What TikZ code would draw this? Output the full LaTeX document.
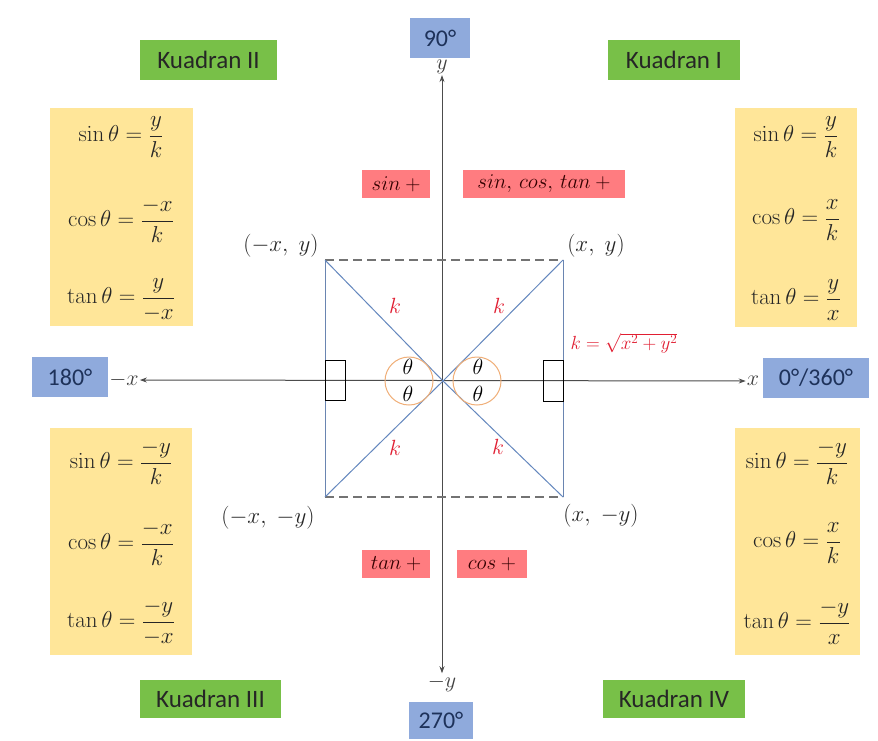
\RequirePackage{fix-cm}
\documentclass[tikz,border=0pt]{standalone}
\usepackage[no-math]{fontspec}
\setmainfont{Carlito}
\usetikzlibrary{arrows.meta}
\definecolor{degblue}{RGB}{143,170,220}
\definecolor{degtext}{RGB}{30,50,90}
\definecolor{quadgreen}{RGB}{120,192,72}
\definecolor{formyellow}{RGB}{255,230,153}
\definecolor{signred}{RGB}{255,124,128}
\definecolor{diagblue}{RGB}{100,135,190}
\definecolor{kred}{RGB}{225,30,50}
\definecolor{circorange}{RGB}{240,175,120}
\tikzset{
  degbox/.style={fill=degblue, text=degtext, font=\fontsize{24}{26}\selectfont, inner sep=0pt, minimum height=40pt},
  quadbox/.style={fill=quadgreen, text=black!85, font=\fontsize{25}{27}\selectfont, inner sep=0pt, minimum height=40pt},
  formbox/.style={fill=formyellow, draw=none, inner sep=0pt},
  formula/.style={font=\fontsize{23}{26}\selectfont, inner sep=1pt, text=black!85},
  signbox/.style={fill=signred, text=black!80!red, font=\fontsize{21}{24}\selectfont, inner sep=0pt, minimum height=28pt},
  axislabel/.style={font=\fontsize{22}{24}\selectfont, inner sep=1pt, text=black!75},
  axis/.style={draw=black!70, line width=1pt, {Stealth[length=7pt,width=5pt]}-{Stealth[length=7pt,width=5pt]}},
  ptlabel/.style={font=\fontsize{23}{26}\selectfont, text=black!85},
  klabel/.style={font=\fontsize{22}{24}\selectfont, text=kred},
  thlabel/.style={font=\fontsize{22}{24}\selectfont, inner sep=0pt},
  diag/.style={draw=diagblue, line width=1pt},
  sideline/.style={draw=diagblue!80!gray, line width=1pt},
  dashside/.style={draw=black!55, line width=1.2pt, dash pattern=on 9pt off 5pt},
  rightbox/.style={draw=black, line width=1pt},
  arcmark/.style={draw=circorange, line width=1pt},
}
\begin{document}
\begin{tikzpicture}[x=1pt,y=-1pt]
\useasboundingbox (0,0) rectangle (878,740);
\fill[white] (0,0) rectangle (878,740);

% quadrant labels
\node[quadbox, minimum width=137pt] (k2) at (208.5,60) {Kuadran II};
\node[quadbox, minimum width=132pt] (k1) at (674,60) {Kuadran I};
\node[quadbox, minimum width=141pt, minimum height=38pt] (k3) at (210.5,699) {Kuadran III};
\node[quadbox, minimum width=142pt, minimum height=38pt] (k4) at (674,699) {Kuadran IV};

% degree labels
\node[degbox, minimum width=60pt] (d90) at (440,38) {90°};
\node[degbox, minimum width=64pt, minimum height=37pt] (d270) at (441,720) {270°};
\node[degbox, minimum width=76pt] (d180) at (70,377) {180°};
\node[degbox, minimum width=106pt] (d0) at (816,378) {0°/360°};

% formula boxes
\node[formbox, minimum width=143pt, minimum height=218pt] (f2) at (121.5,217) {};
\node[formbox, minimum width=122pt, minimum height=219pt] (f1) at (796,217.5) {};
\node[formbox, minimum width=142pt, minimum height=227pt] (f3) at (121,541.5) {};
\node[formbox, minimum width=125pt, minimum height=227pt] (f4) at (797.5,541.5) {};

\node[formula] (s2) at (121,137) {$\displaystyle \sin\theta = \frac{y}{k}$};
\node[formula] (c2) at (121,220) {$\displaystyle \cos\theta = \frac{-x}{k}$};
\node[formula] (t2) at (121,300) {$\displaystyle \tan\theta = \frac{y}{-x}$};

\node[formula] (s1) at (796,137) {$\displaystyle \sin\theta = \frac{y}{k}$};
\node[formula] (c1) at (796,220) {$\displaystyle \cos\theta = \frac{x}{k}$};
\node[formula] (t1) at (796,300) {$\displaystyle \tan\theta = \frac{y}{x}$};

\node[formula] (s3) at (121,462) {$\displaystyle \sin\theta = \frac{-y}{k}$};
\node[formula] (c3) at (121,543) {$\displaystyle \cos\theta = \frac{-x}{k}$};
\node[formula] (t3) at (121,622) {$\displaystyle \tan\theta = \frac{-y}{-x}$};

\node[formula] (s4) at (797,462) {$\displaystyle \sin\theta = \frac{-y}{k}$};
\node[formula] (c4) at (797,543) {$\displaystyle \cos\theta = \frac{x}{k}$};
\node[formula] (t4) at (797,622) {$\displaystyle \tan\theta = \frac{-y}{x}$};

% sign boxes
\node[signbox, minimum width=68pt] (sg2) at (396,184) {$sin\:+$};
\node[signbox, minimum width=162pt] (sg1) at (544,184) {$sin,\,cos,\,tan\:+$};
\node[signbox, minimum width=68pt] (sg3) at (396,564) {$tan\:+$};
\node[signbox, minimum width=70pt] (sg4) at (492,564) {$cos\:+$};

% axes
\node[axislabel] (px) at (753,381) {$x$};
\node[axislabel] (mx) at (124,380) {$-x$};
\node[axislabel] (py) at (442,67) {$y$};
\node[axislabel] (my) at (442,683) {$-y$};
\coordinate (O) at (443,381);
\draw[axis] (mx.east) -- (px.west);
\draw[axis] (py.south) -- (my.north);

% rectangle corners
\coordinate (A) at (563,260);
\coordinate (B) at (325,260);
\coordinate (C) at (325,497);
\coordinate (D) at (563,497);
\draw[dashside] (B) -- (A);
\draw[dashside] (C) -- (D);
\draw[sideline] (B) -- (C);
\draw[sideline] (A) -- (D);
\draw[diag] (O) -- (A);
\draw[diag] (O) -- (B);
\draw[diag] (O) -- (C);
\draw[diag] (O) -- (D);

% right angle marks
\draw[rightbox] (325,360) rectangle (345,400);
\draw[rightbox] (543,360) rectangle (563,401);

% angle circles
\draw[arcmark] (409,381) circle (24);
\draw[arcmark] (477,381) circle (24);

% theta labels
\node[thlabel] (th1) at (408,367) {$\theta$};
\node[thlabel] (th2) at (408,394) {$\theta$};
\node[thlabel] (th3) at (478,367) {$\theta$};
\node[thlabel] (th4) at (478,394) {$\theta$};

% k labels
\node[klabel] (k1l) at (395,306) {$k$};
\node[klabel] (k2l) at (499,306) {$k$};
\node[klabel] (k3l) at (395,448) {$k$};
\node[klabel] (k4l) at (498,447) {$k$};
\node[klabel, anchor=west, font=\fontsize{19}{21}\selectfont] (kf) at (567,343) {$k=\sqrt{x^2+y^2}$};

% corner labels
\node[ptlabel] (pA) at (596,246) {$(x,\;y)$};
\node[ptlabel] (pB) at (281,246) {$(-x,\;y)$};
\node[ptlabel] (pC) at (268,518) {$(-x,\;-y)$};
\node[ptlabel] (pD) at (601,516) {$(x,\;-y)$};
\end{tikzpicture}
\end{document}
